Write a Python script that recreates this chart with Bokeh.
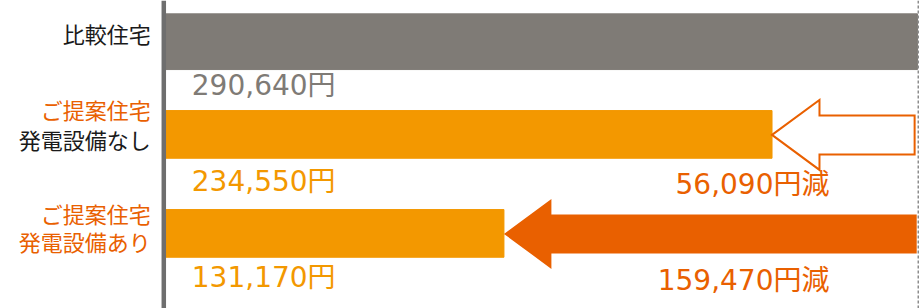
from bokeh.plotting import figure
from bokeh.models import Range1d, Span, ColumnDataSource
from bokeh.core.properties import value
from bokeh.embed import file_html
from bokeh.resources import INLINE

# ---- data ----
categories = ["比較住宅", "ご提案住宅 発電設備なし", "ご提案住宅 発電設備あり"]
costs = [290640, 234550, 131170]          # 円
baseline = costs[0]
reductions = [baseline - c for c in costs]  # 0, 56090, 159470

# ---- styles / layout ----
GRAY = "#7f7b76"
ORANGE = "#f39800"
DARK_ORANGE = "#e96000"
BLACK = "#1a1a1a"
AXIS = "#6e6e6e"
JP = value("Noto Sans CJK JP")
NUM = value("DejaVu Sans, Noto Sans CJK JP")

ROW_Y = [41.2, 133.9, 232.9]        # vertical centre of each row (px)
BAR_H = [55.7, 47.7, 47.7]
bar_colors = [GRAY, ORANGE, ORANGE]

p = figure(width=919, height=308, output_backend="svg", toolbar_location=None,
           x_range=Range1d(-62970, 291420), y_range=Range1d(308, 0),
           x_axis_location=None, y_axis_location=None, min_border=0,
           outline_line_color=None, background_fill_color="white")
p.grid.visible = False

# bars
src = ColumnDataSource(dict(y=ROW_Y, right=costs, h=BAR_H, color=bar_colors))
p.hbar(y="y", left=0, right="right", height="h", color="color", source=src)

# arrows from baseline to each proposal bar
HEAD_LEN = 18300
HEAD_HALF = 35
SHAFT_HALF = 19.5

def arrow_shape(x_tail, x_tip, yc):
    xb = x_tip + HEAD_LEN
    xs = [x_tip, xb, xb, x_tail, x_tail, xb, xb]
    ys = [yc, yc - HEAD_HALF, yc - SHAFT_HALF, yc - SHAFT_HALF,
          yc + SHAFT_HALF, yc + SHAFT_HALF, yc + HEAD_HALF]
    return xs, ys

xs1, ys1 = arrow_shape(baseline - 1100, costs[1], ROW_Y[1] + 0.5)
p.patch(xs1, ys1, fill_color="white", line_color=DARK_ORANGE, line_width=2,
        line_join="miter")
xs2, ys2 = arrow_shape(baseline - 300, costs[2], ROW_Y[2] + 0.5)
p.patch(xs2, ys2, fill_color=DARK_ORANGE, line_color=None)

# axis line and dashed reference line
p.add_layout(Span(location=0, dimension="height", line_color=AXIS, line_width=4.5))
p.add_layout(Span(location=baseline + 400, dimension="height", line_color="#8c8c8c",
                  line_width=2, line_dash="3 2"))

# category labels (right aligned left of the axis)
parts = [c.split(" ") for c in categories]
lab_x, lab_y, lab_t, lab_c = [], [], [], []
line_pos = [[32.5], [108.5, 138.5], [212.5, 240]]
line_col = [[BLACK], [DARK_ORANGE, BLACK], [DARK_ORANGE, DARK_ORANGE]]
for lines, ys, cs in zip(parts, line_pos, line_col):
    for t, y, c in zip(lines, ys, cs):
        lab_x.append(0); lab_y.append(y); lab_t.append(t); lab_c.append(c)
p.text(x=lab_x, y=lab_y, text=lab_t, text_color=lab_c, text_align="right",
       text_baseline="middle", x_offset=-13, text_font=JP,
       text_font_size="22px")

# value labels under each bar
val_base_y = [85, 181, 277]
val_colors = [GRAY, ORANGE, ORANGE]
p.text(x=[0, 0, 0], y=val_base_y, text=[f"{c:,}円" for c in costs],
       text_color=val_colors, text_align="left", text_baseline="alphabetic",
       x_offset=28, text_font=NUM, text_font_size="28px")

# reduction labels
red_y = [183.5, 280]
p.text(x=[baseline, baseline], y=red_y,
       text=[f"{r:,}円減" for r in reductions[1:]],
       text_color=DARK_ORANGE, text_align="right", text_baseline="alphabetic",
       x_offset=-88, text_font=NUM, text_font_size="28px")

open("out.html", "w").write(file_html(p, INLINE))
